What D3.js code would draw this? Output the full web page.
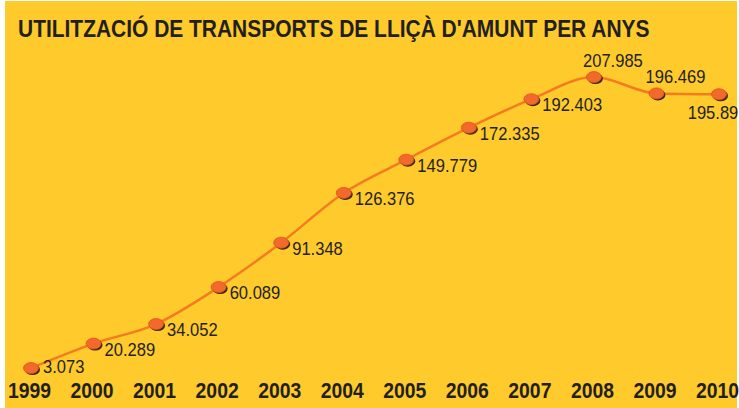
<!DOCTYPE html>
<html>
<head>
<meta charset="utf-8">
<script src="https://cdn.jsdelivr.net/npm/d3@7/dist/d3.min.js"></script>
<style>
  html, body { margin: 0; padding: 0; background: #fff; }
  svg { display: block; }
  .year { font-family: 'Liberation Sans', Arial, sans-serif; font-weight: bold; font-size: 22px; fill: #231f20; }
  .val { font-family: 'Liberation Sans', Arial, sans-serif; font-size: 18px; fill: #231f20; }
  .title { font-family: 'Liberation Sans', Arial, sans-serif; font-weight: bold; font-size: 24px; fill: #231f20; }
</style>
</head>
<body>
<svg id="chart" width="739" height="408"></svg>
<script>
  'use strict';

  var years = ['1999', '2000', '2001', '2002', '2003', '2004', '2005', '2006', '2007', '2008', '2009', '2010'];
  var riders = [3073, 20289, 34052, 60089, 91348, 126376, 149779, 172335, 192403, 207985, 196469, 195890];
  var valueLabels = ['3.073', '20.289', '34.052', '60.089', '91.348', '126.376', '149.779', '172.335', '192.403', '207.985', '196.469', '195.89'];
  // where each value label sits relative to its point
  var labelPlace = ['rightHigh', 'right', 'right', 'right', 'right', 'right', 'right', 'right', 'right', 'aboveRight', 'aboveRight', 'belowLeft'];

  var title = "UTILITZACIÓ DE TRANSPORTS DE LLIÇÀ D'AMUNT PER ANYS";

  var width = 739, height = 408;
  var $svg = d3.select('#chart');

  // yellow panel, thin white frame on the left / top
  $svg.append('rect')
    .attr('x', 5).attr('y', 1)
    .attr('width', width - 7).attr('height', height - 1)
    .attr('fill', '#ffca2b');

  // title squeezed to the printed width (condensed face not available)
  var $title = $svg.append('text')
    .attr('class', 'title')
    .attr('x', 0).attr('y', 0)
    .text(title);
  var titleScale = 632 / $title.node().getComputedTextLength();
  $title.attr('transform', 'translate(18,37) scale(' + titleScale + ',1)');

  var xScale = d3.scalePoint()
    .domain(years)
    .range([31, 719]);

  var yScale = d3.scaleLinear()
    .domain([0, 200000])
    .range([372.4, 88.4]);

  // year axis (labels sit a touch left of the points, as in the print)
  var xAxis = d3.axisBottom(xScale).tickSize(0).tickPadding(0);
  var $axis = $svg.append('g')
    .attr('transform', 'translate(-2,383)')
    .call(xAxis);
  $axis.select('.domain').remove();
  $axis.selectAll('text')
    .attr('class', 'year')
    .attr('fill', null)
    .attr('font-size', null)
    .attr('font-family', null)
    .attr('y', null)
    .attr('dy', null)
    .attr('transform', 'translate(0,15) scale(0.88,1)');

  var pts = years.map(function(y, i) {
    return { year: y, value: riders[i], label: valueLabels[i], place: labelPlace[i] };
  });

  var line = d3.line()
    .x(function(d) { return xScale(d.year); })
    .y(function(d) { return yScale(d.value); })
    .curve(d3.curveMonotoneX);

  $svg.append('path')
    .datum(pts)
    .attr('d', line)
    .attr('fill', 'none')
    .attr('stroke', '#f47b20')
    .attr('stroke-width', 2.5);

  var offsets = {
    right: [11, 12, 'start'],
    rightHigh: [12, 5, 'start'],
    aboveRight: [19, -10, 'middle'],
    belowLeft: [-6, 25, 'middle']
  };

  // markers: dark shadow then orange ellipse
  var $marks = $svg.selectAll('g.mark')
    .data(pts)
    .enter()
    .append('g')
    .attr('class', 'mark')
    .attr('transform', function(d) {
      return 'translate(' + xScale(d.year) + ',' + yScale(d.value) + ')';
    });

  $marks.append('ellipse')
    .attr('cx', 1.5).attr('cy', 1.5)
    .attr('rx', 7.5).attr('ry', 5.5)
    .attr('fill', '#3a2a1a');

  $marks.append('ellipse')
    .attr('cx', 0).attr('cy', 0)
    .attr('rx', 7.5).attr('ry', 5.5)
    .attr('fill', '#f26a2b')
    .attr('stroke', '#e0501d')
    .attr('stroke-width', 0.8);

  $marks.append('text')
    .attr('class', 'val')
    .attr('text-anchor', function(d) { return offsets[d.place][2]; })
    .attr('transform', function(d) {
      var o = offsets[d.place];
      return 'translate(' + o[0] + ',' + o[1] + ') scale(0.92,1)';
    })
    .text(function(d) { return d.label; });
</script>
</body>
</html>
